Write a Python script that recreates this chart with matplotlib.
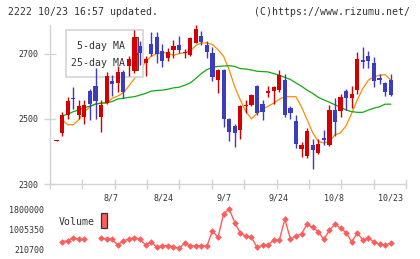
import numpy as np
import matplotlib.pyplot as plt
from matplotlib.patches import Rectangle

# ---- data (61 trading days) ----
opens = [2433, 2455, 2513, 2564, 2513, 2506, 2584, 2600, 2505, 2549,
         2616, 2611, 2643, 2662, 2651, 2724, 2670, 2731, 2750, 2709,
         2688, 2711, 2728, 2701, 2696, 2734, 2755, 2728, 2701, 2620,
         2650, 2500, 2478, 2467, 2540, 2542, 2600, 2546, 2578, 2585,
         2588, 2619, 2533, 2492, 2406, 2385, 2421, 2396, 2441, 2421,
         2527, 2525, 2585, 2565, 2588, 2680, 2692, 2670, 2624, 2611, 2619]
closes = [2436, 2513, 2554, 2560, 2539, 2542, 2546, 2556, 2542, 2630,
          2608, 2644, 2582, 2685, 2749, 2703, 2683, 2700, 2699, 2679,
          2704, 2724, 2711, 2704, 2747, 2777, 2735, 2704, 2627, 2650,
          2501, 2461, 2455, 2540, 2543, 2572, 2519, 2522, 2585, 2597,
          2634, 2512, 2519, 2424, 2421, 2463, 2403, 2424, 2436, 2527,
          2489, 2566, 2565, 2576, 2683, 2674, 2677, 2617, 2619, 2583, 2573]
highs = [2436, 2520, 2567, 2597, 2557, 2559, 2592, 2655, 2559, 2645,
         2636, 2663, 2650, 2693, 2773, 2740, 2692, 2767, 2766, 2729,
         2718, 2741, 2753, 2714, 2752, 2787, 2771, 2740, 2719, 2653,
         2653, 2502, 2484, 2542, 2559, 2575, 2604, 2558, 2600, 2601,
         2649, 2639, 2540, 2512, 2428, 2472, 2438, 2438, 2467, 2542,
         2563, 2576, 2593, 2600, 2705, 2722, 2707, 2690, 2639, 2614, 2637]
lows = [2433, 2447, 2501, 2531, 2498, 2485, 2496, 2500, 2460, 2546,
        2570, 2581, 2564, 2630, 2640, 2665, 2630, 2693, 2670, 2658,
        2676, 2688, 2702, 2688, 2692, 2733, 2727, 2688, 2616, 2580,
        2474, 2431, 2415, 2437, 2519, 2540, 2513, 2495, 2566, 2546,
        2583, 2507, 2499, 2411, 2382, 2380, 2345, 2393, 2419, 2416,
        2448, 2507, 2527, 2533, 2576, 2656, 2656, 2598, 2607, 2570, 2570]
ma5 = [np.nan, 2497, 2482, 2482, 2497, 2522, 2536, 2546, 2548, 2548,
       2563, 2570, 2580, 2601, 2624, 2649, 2675, 2692, 2700, 2703,
       2702, 2695, 2700, 2703, 2708, 2725, 2733, 2733, 2728, 2712,
       2692, 2650, 2598, 2558, 2522, 2500, 2517, 2529, 2539, 2548,
       2560, 2568, 2568, 2568, 2536, 2497, 2457, 2431, 2426, 2431,
       2451, 2457, 2479, 2517, 2558, 2593, 2619, 2629, 2634, 2636, 2619]
ma25 = [np.nan, 2509, 2514, 2522, 2527, 2534, 2539, 2545, 2548, 2550,
        2553, 2561, 2563, 2566, 2568, 2573, 2578, 2585, 2587, 2588,
        2591, 2595, 2597, 2603, 2610, 2624, 2639, 2651, 2658, 2661,
        2662, 2663, 2661, 2654, 2653, 2650, 2646, 2645, 2644, 2639,
        2634, 2627, 2621, 2610, 2600, 2588, 2578, 2566, 2558, 2551,
        2543, 2536, 2527, 2522, 2520, 2520, 2527, 2533, 2537, 2545, 2545]
volume = [np.nan, 513000, 552000, 672000, 608000, 608000, np.nan, np.nan, 672000, 608000,
          608000, 381000, 552000, 608000, 672000, 608000, 381000, 513000, 290000, 354000,
          354000, 314000, 250000, 449000, 342000, 342000, 354000, 342000, 945000, 680000,
          1620000, 1806000, 1275000, 858000, 726000, 680000, 290000, 381000, 381000, 580000,
          566000, 1408000, 614000, 726000, 832000, 1210000, 1077000, 910000, 608000, 964000,
          1210000, 1045000, 878000, 501000, 858000, 580000, 660000, 501000, 415000, 381000, 461000]

date_labels = ['8/7', '8/24', '9/7', '9/24', '10/8', '10/23']
date_pos = [9.8, 19.2, 30.1, 39.8, 49.8, 59.9]
price_ticks = [2300, 2500, 2700]
vol_ticks = [210700, 1005350, 1800000]

UP = '#d40000'
DOWN = '#3c3cbe'
GRAY = '#d4d4d4'
TXT = '#333333'
VOLC = '#ff5c5c'
plt.rcParams['font.family'] = 'DejaVu Sans Mono'

W, H = 420, 259
fig = plt.figure(figsize=(W / 100, H / 100), dpi=100)


def axes_px(x0, y0, x1, y1):
    return fig.add_axes([x0 / W, 1 - y1 / H, (x1 - x0) / W, (y1 - y0) / H])


ax = axes_px(50, 25, 406, 184)
axv = axes_px(50, 203, 406, 255)

x = np.arange(len(closes))
o = np.array(opens, float)
c = np.array(closes, float)
up = c >= o
cols = np.where(up, UP, DOWN)

# candles
ax.vlines(x, lows, highs, colors=cols, linewidth=1.0, zorder=4)
body_lo = np.minimum(o, c)
body_h = np.maximum(np.abs(c - o), 3)
ax.bar(x, body_h, bottom=body_lo, width=0.75, color=cols, linewidth=0, zorder=5)

# moving averages
ax.plot(x, ma5, color='#ff8c00', linewidth=0.9, zorder=2)
ax.plot(x, ma25, color='#11aa11', linewidth=0.9, zorder=2)

ax.set_xlim(-1.17, 62.75)
ax.set_ylim(2300, 2788)
ax.set_yticks(price_ticks)
ax.set_yticklabels([str(t) for t in price_ticks], fontsize=6, color=TXT)
ax.set_xticks(np.linspace(-1.17, 62.75, 12))
ax.set_xticklabels([])
ax.set_xticks(date_pos, minor=True)
ax.set_xticklabels(date_labels, minor=True, fontsize=6, color=TXT)
ax.tick_params(axis='y', direction='inout', length=8, width=1, color=GRAY, pad=4.5)
ax.tick_params(axis='x', which='major', direction='inout', length=7.5, width=1, color=GRAY)
ax.tick_params(axis='x', which='minor', length=0, pad=7)
for s in ['top', 'right']:
    ax.spines[s].set_visible(False)
for s in ['left', 'bottom']:
    ax.spines[s].set_color(GRAY)
    ax.spines[s].set_linewidth(1)

# MA legend box (hides the MA lines, candles drawn on top)
ax.add_patch(Rectangle((16 / 356, 106.7 / 159), 77 / 356, 47.3 / 159, transform=ax.transAxes,
                       facecolor='white', edgecolor=GRAY, linewidth=1.2, zorder=3))
ax.add_patch(Rectangle((81.5 / 356, 131 / 159), 6.5 / 356, 16 / 159, transform=ax.transAxes,
                       facecolor='#ff8c00', edgecolor='#444444', linewidth=0.8, zorder=3.5))
ax.add_patch(Rectangle((81.5 / 356, 114.5 / 159), 6.5 / 356, 16 / 159, transform=ax.transAxes,
                       facecolor='#11aa11', edgecolor='#444444', linewidth=0.8, zorder=3.5))
ax.text(75 / 356, 138 / 159, '5-day MA', transform=ax.transAxes, ha='right', va='center',
        fontsize=7.1, color=TXT, zorder=6)
ax.text(75 / 356, 121.3 / 159, '25-day MA', transform=ax.transAxes, ha='right', va='center',
        fontsize=7.1, color=TXT, zorder=6)

# volume
axv.plot(x, volume, color=VOLC, linewidth=1.0, marker='D', markersize=3.4,
         markeredgewidth=0, markerfacecolor=VOLC)
axv.set_xlim(ax.get_xlim())
axv.set_ylim(-15800, 2050000)
axv.set_yticks(vol_ticks)
axv.set_yticklabels([str(t) for t in vol_ticks], fontsize=6, color=TXT)
axv.set_xticks([])
axv.tick_params(axis='y', length=0, pad=4.3)
for s in axv.spines.values():
    s.set_visible(False)
axv.text(8.5 / 356, 0.63, 'Volume', transform=axv.transAxes, ha='left', va='center',
         fontsize=7.1, color=TXT)
axv.add_patch(Rectangle((51.3 / 356, (255 - 228.3) / 52), 6 / 356, 15 / 52, transform=axv.transAxes,
                        facecolor=VOLC, edgecolor='#333333', linewidth=0.9, clip_on=False))

fig.text(8 / W, 1 - 12 / H, '2222 10/23 16:57 updated.', ha='left', va='center',
         fontsize=7.1, color=TXT)
fig.text(410 / W, 1 - 12 / H, '(C)https://www.rizumu.net/', ha='right', va='center',
         fontsize=7.1, color=TXT)

fig.savefig('out.png', dpi=100)
